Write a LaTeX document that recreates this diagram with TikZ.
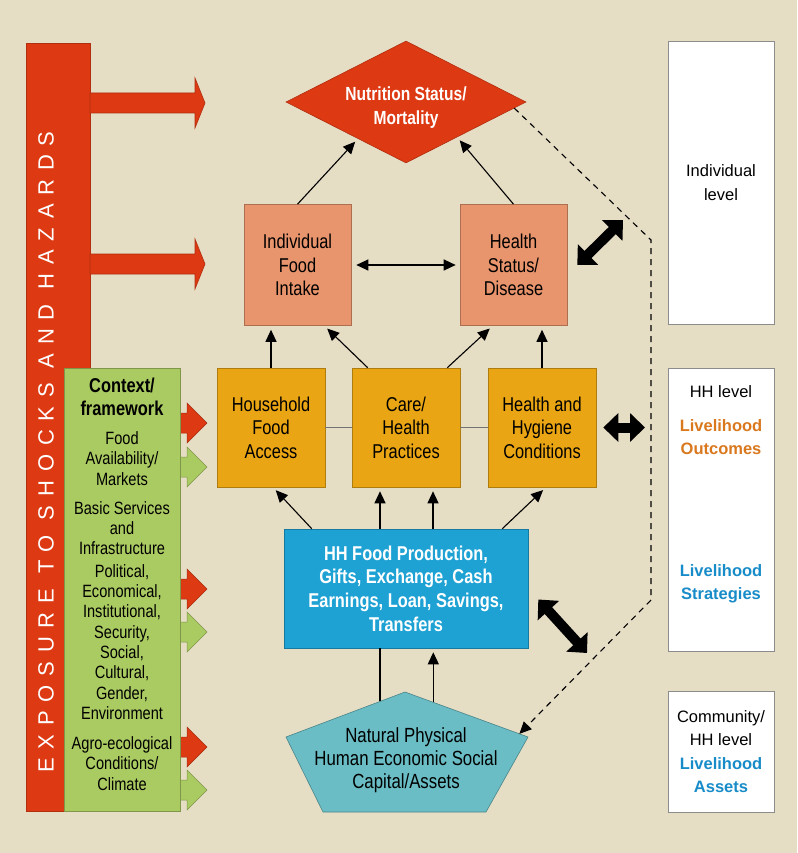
\documentclass[tikz,border=0pt]{standalone}
\usepackage{fontspec}
\setmainfont{Liberation Sans}
\newfontfamily\narrowfont[FakeStretch=0.82]{Liberation Sans}
\newfontfamily\spacedfont[LetterSpace=40]{Liberation Sans}
\usetikzlibrary{shapes.geometric,arrows.meta,calc}

\definecolor{bgbeige}{RGB}{229,221,196}
\definecolor{redc}{RGB}{221,57,19}
\definecolor{salmonc}{RGB}{232,148,108}
\definecolor{orangec}{RGB}{234,165,20}
\definecolor{bluec}{RGB}{30,162,212}
\definecolor{tealc}{RGB}{106,189,196}
\definecolor{greenc}{RGB}{170,202,98}
\definecolor{outcomec}{RGB}{218,120,30}
\definecolor{assetc}{RGB}{24,140,200}

\begin{document}
\begin{tikzpicture}[x=1pt,y=-1pt,
    box/.style={draw=#1!75!black, fill=#1, line width=0.6pt, inner sep=0pt,
        align=center, font=\narrowfont\fontsize{20}{23.5}\selectfont},
    lvlbox/.style={draw=black!45, fill=white, line width=0.6pt, inner sep=0pt,
        minimum width=106pt, align=center, font=\fontsize{16.5}{23.5}\selectfont},
    lvltxt/.style={align=center, inner sep=0pt, font=\fontsize{16.5}{23.5}\selectfont},
    link/.style={-{Triangle[length=12pt,width=11pt]}, line width=1.1pt, shorten >=4pt},
    plain/.style={line width=1.1pt},
    bigarrow/.style={line width=10pt, {Triangle[length=15pt,width=28pt]}-{Triangle[length=15pt,width=28pt]}},
    dashline/.style={dash pattern=on 6pt off 5pt, line width=1.1pt, -{Triangle[length=12pt,width=11pt]}}]

    % Background
    \fill[bgbeige] (0,0) rectangle (797,853);

    % Exposure bar
    \draw[fill=redc, draw=redc!80!black, line width=0.6pt] (26,43) rectangle (90,811);
    \foreach \y in {103,264}
        \filldraw[fill=redc, draw=redc!80!black, line width=0.6pt] (90,\y-10) -- (195,\y-10) -- (195,\y-25) -- (205,\y) -- (195,\y+25) -- (195,\y+10) -- (90,\y+10) -- cycle;
    \node[rotate=90, text=white, inner sep=0pt, font=\spacedfont\fontsize{22}{22}\selectfont] (exposure) at (46,452) {EXPOSURE TO SHOCKS AND HAZARDS};

    % Context box
    \foreach \y/\c in {423/redc,589/redc,747/redc,467/greenc,632/greenc,790/greenc}
        \filldraw[fill=\c, draw=\c!75!black, line width=0.5pt] (178,\y-10) -- (187,\y-10) -- (187,\y-20) -- (207,\y) -- (187,\y+20) -- (187,\y+10) -- (178,\y+10) -- cycle;
    \node[box=greenc, minimum width=116pt, minimum height=443pt] (context) at (122,589.5) {};
    \node[align=center, inner sep=0pt, font=\narrowfont\bfseries\fontsize{20}{23}\selectfont] (contexthead) at (122,397) {Context/\\framework};
    \node[align=center, inner sep=0pt, font=\narrowfont\fontsize{17.8}{20.3}\selectfont] (contextbody) at (122,611) {Food\\Availability/\\Markets\\[9pt]
        Basic Services\\and\\Infrastructure\\[2pt]
        Political,\\Economical,\\Institutional,\\Security,\\Social,\\Cultural,\\Gender,\\Environment\\[10pt]
        Agro-ecological\\Conditions/\\Climate};

    % Outcome
    \node[diamond, fill=redc, draw=redc!80!black, line width=0.6pt, inner sep=0pt,
        minimum width=240pt, minimum height=122pt] (nutrition) at (406,102) {};
    \node[align=center, inner sep=0pt, text=white, font=\narrowfont\bfseries\fontsize{19}{24}\selectfont] (nutritiontxt) at (406,108) {Nutrition Status/\\Mortality};

    % Individual level
    \node[box=salmonc, minimum width=107pt, minimum height=121pt] (intake) at (297.5,265) {Individual\\Food\\Intake};
    \node[box=salmonc, minimum width=107pt, minimum height=121pt] (health) at (513.5,265) {Health\\Status/\\Disease};

    % HH level
    \node[box=orangec, minimum width=108pt, minimum height=119pt] (access) at (271,427.5) {Household\\Food\\Access};
    \node[box=orangec, minimum width=108pt, minimum height=119pt] (care) at (406,427.5) {Care/\\Health\\Practices};
    \node[box=orangec, minimum width=108pt, minimum height=119pt] (hygiene) at (542,427.5) {Health and\\Hygiene\\Conditions};
    \node[box=bluec, minimum width=244pt, minimum height=119pt, text=white,
        font=\narrowfont\bfseries\fontsize{20}{23.7}\selectfont] (production) at (406,588.5) {HH Food Production,\\Gifts, Exchange, Cash\\Earnings, Loan, Savings,\\Transfers};

    % Assets
    \filldraw[fill=tealc, draw=tealc!70!black, line width=0.6pt] (405,692) coordinate (ptop) -- (528,737) coordinate (pright)
        -- (486,812) -- (323,812) -- (286,737) coordinate (pleft) -- cycle;
    \node[align=center, inner sep=0pt, font=\narrowfont\fontsize{20.5}{23}\selectfont] (assets) at (406,760) {Natural Physical\\Human Economic Social\\Capital/Assets};

    % Arrows
    \draw[link] (intake.north) -- ($(nutrition.west)!0.6!(nutrition.south)$);
    \draw[link] (health.north) -- ($(nutrition.south)!0.425!(nutrition.east)$);
    \draw[link, {Triangle[length=12pt,width=11pt]}-{Triangle[length=12pt,width=11pt]}, shorten <=5pt] (intake.east) -- (health.west);
    \draw[link] (access.north) -- (access.north |- intake.south);
    \draw[link] ([xshift=16pt]care.north west) -- ([xshift=-27pt]intake.south east);
    \draw[link] ([xshift=-13pt]care.north east) -- ([xshift=33pt]health.south west);
    \draw[link] (hygiene.north) -- (hygiene.north |- health.south);
    \draw[plain, black!55] (access.east) -- (care.west);
    \draw[plain, black!55] (care.east) -- (hygiene.west);
    \draw[link] ([xshift=28pt]production.north west) -- ([xshift=2pt]access.south);
    \draw[link] ([xshift=-26pt]production.north) -- ([xshift=-26pt]care.south);
    \draw[link] ([xshift=27pt]production.north) -- ([xshift=27pt]care.south);
    \draw[link] ([xshift=-26pt]production.north east) -- ([xshift=4pt]hygiene.south);
    \coordinate (pa) at ($(ptop)!0.21!(pleft)$);
    \coordinate (pb) at ($(ptop)!0.23!(pright)$);
    \draw[plain] (pa) -- (pa |- production.south);
    \draw[link] (pb) -- (pb |- production.south);

    % Feedback
    \coordinate (bend1) at (651,240);
    \coordinate (bend2) at (651,600);
    \draw[dashline] ($(nutrition.east)!0.1!(nutrition.south)$) -- (bend1) -- (bend2) -- ($(ptop)!0.93!(pright)$);

    % Levels
    \coordinate (indivlink) at (623,220);
    \coordinate (hhlink) at (645,427.5);
    \coordinate (strlink) at (587,653);
    \draw[bigarrow] ([xshift=10pt]health.east) -- (indivlink);
    \draw[bigarrow] ([xshift=7pt]hygiene.east) -- (hhlink);
    \draw[bigarrow] ([shift={(10pt,-11pt)}]production.east) -- (strlink);

    \node[lvlbox, minimum height=283pt] (individual) at (721,182.5) {Individual\\level};
    \node[lvlbox, minimum height=283pt] (household) at (721,509.5) {};
    \node[lvltxt] (hhlevel) at (721,392) {HH level};
    \node[lvltxt, text=outcomec, font=\bfseries\fontsize{16.5}{23.5}\selectfont] (outcomes) at (721,437) {Livelihood\\Outcomes};
    \node[lvltxt, text=assetc, font=\bfseries\fontsize{16.5}{23.5}\selectfont] (strategies) at (721,584) {Livelihood\\Strategies};
    \node[lvlbox, minimum height=121pt] (community) at (721,751.5) {Community/\\HH level\\\textcolor{assetc}{\bfseries Livelihood}\\\textcolor{assetc}{\bfseries Assets}};
\end{tikzpicture}
\end{document}
